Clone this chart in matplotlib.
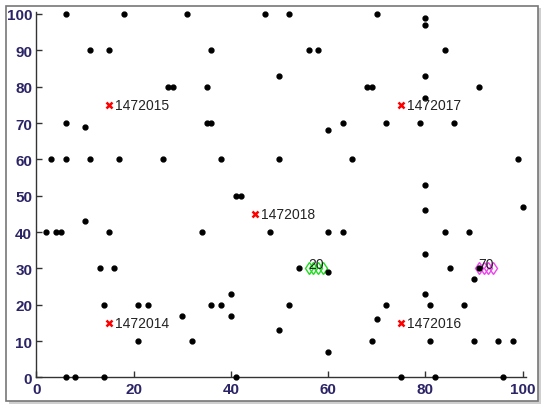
import matplotlib.pyplot as plt
from matplotlib.patches import Rectangle

# black points
pts_x = [6, 18, 31, 47, 52, 70, 80, 80,
         11, 15, 36, 56, 58, 84,
         50, 80,
         27, 28, 35, 68, 69, 91,
         80,
         6, 10, 35, 36, 63, 72, 79, 86, 60,
         3, 6, 11, 17, 26, 38, 50, 65, 99,
         80, 41, 42,
         100, 80,
         2, 4, 5, 10, 15, 34, 48, 60, 63, 84, 89,
         80,
         13, 16, 54, 60, 85, 91, 90,
         14, 21, 23, 36, 38, 40, 52, 72, 81, 88, 80,
         30, 40, 70, 50,
         21, 32, 69, 81, 90, 95, 98, 60,
         6, 8, 14, 41, 75, 82, 96]
pts_y = [100, 100, 100, 100, 100, 100, 99, 97,
         90, 90, 90, 90, 90, 90,
         83, 83,
         80, 80, 80, 80, 80, 80,
         77,
         70, 69, 70, 70, 70, 70, 70, 70, 68,
         60, 60, 60, 60, 60, 60, 60, 60, 60,
         53, 50, 50,
         47, 46,
         40, 40, 40, 43, 40, 40, 40, 40, 40, 40, 40,
         34,
         30, 30, 30, 29, 30, 30, 27,
         20, 20, 20, 20, 20, 23, 20, 20, 20, 20, 23,
         17, 17, 16, 13,
         10, 10, 10, 10, 10, 10, 10, 7,
         0, 0, 0, 0, 0, 0, 0]

# red marked nodes
red_x = [15, 75, 45, 15, 75]
red_y = [75, 75, 45, 15, 15]
red_labels = ['1472015', '1472017', '1472018', '1472014', '1472016']

# cluster groups
green_x = [56, 57, 58, 59]
green_y = [30, 30, 30, 30]
magenta_x = [91, 92, 93, 94]
magenta_y = [30, 30, 30, 30]

fig = plt.figure(figsize=(5.5, 4.14), dpi=100)

# outer frame with shadow
fig.patches.append(Rectangle((9 / 550, 9 / 414), 532 / 550, 396 / 414, transform=fig.transFigure,
                             facecolor='#b0b0b0', edgecolor='none', alpha=0.6, zorder=-2))
fig.patches.append(Rectangle((6 / 550, 12 / 414), 532 / 550, 395 / 414, transform=fig.transFigure,
                             facecolor='white', edgecolor='#777777', lw=1.2, zorder=-1))

ax = fig.add_axes([36.4 / 550, 35.6 / 414, 490 / 550, 365.6 / 414])
ax.set_facecolor('none')
ax.set_xlim(0, 100.8)
ax.set_ylim(0, 100.6)
ax.spines['top'].set_visible(False)
ax.spines['right'].set_visible(False)
for s in ['left', 'bottom']:
    ax.spines[s].set_color('#333333')
    ax.spines[s].set_linewidth(1.0)

ax.plot(green_x, green_y, 'd', ms=6, mfc='none', mec='#22dd22', mew=1.0, clip_on=False)
ax.plot(magenta_x, magenta_y, 'd', ms=6, mfc='none', mec='#ee44ee', mew=1.0, clip_on=False)
ax.text(57.5, 31.3, '20', fontsize=10, family='Liberation Sans', color='#222222', ha='center', va='center')
ax.text(92.5, 31.3, '70', fontsize=10, family='Liberation Sans', color='#222222', ha='center', va='center')

ax.plot(pts_x, pts_y, 'o', ms=3.5, color='black', clip_on=False, zorder=3)

ax.plot(red_x, red_y, 'x', ms=4, mew=1.8, color='red', zorder=4)
for x, y, lab in zip(red_x, red_y, red_labels):
    ax.text(x + 1.2, y, lab, fontsize=10, family='Liberation Sans', color='#222222', va='center')

ax.set_xticks([0, 20, 40, 60, 80, 100])
ax.set_yticks(range(0, 101, 10))
ax.tick_params(direction='in', length=4, width=1, color='#333333', labelsize=11,
               labelcolor='#2b2466', pad=3)
for lab in ax.get_xticklabels() + ax.get_yticklabels():
    lab.set_fontweight('bold')
    lab.set_family('Liberation Sans')

fig.savefig('out.png', dpi=100)
